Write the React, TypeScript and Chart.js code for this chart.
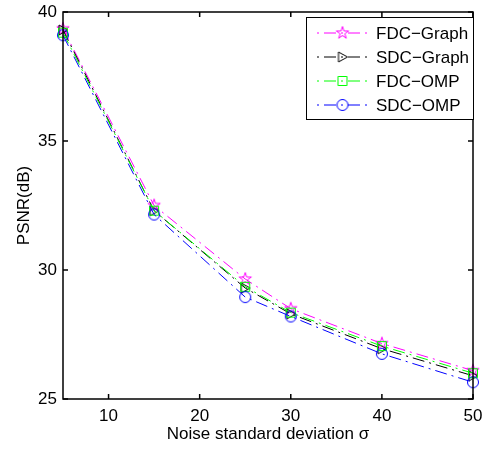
import React, { useEffect, useRef } from 'react';
import { Chart, registerables } from 'chart.js';

Chart.register(...registerables);

const noiseSigma = [5, 15, 25, 30, 40, 50];
const fdcGraph = [39.35, 32.5, 29.65, 28.5, 27.15, 26.1];
const sdcGraph = [39.3, 32.3, 29.3, 28.3, 26.95, 25.9];
const fdcOmp = [39.2, 32.3, 29.35, 28.35, 27.05, 26.0];
const sdcOmp = [39.1, 32.15, 28.95, 28.2, 26.75, 25.65];
const xTicks = [10, 20, 30, 40, 50];
const yTicks = [25, 30, 35, 40];
const seriesNames = ['FDC\u2212Graph', 'SDC\u2212Graph', 'FDC\u2212OMP', 'SDC\u2212OMP'];
const seriesColors = ['#ff00ff', '#000000', '#00ff00', '#0000ff'];
const seriesMarkers = ['pentagram', 'triangleRight', 'square', 'circle'];

const FONT = '"Liberation Sans", Arial, Helvetica, sans-serif';
const DASH = [12, 5, 2, 5];

function makeMarker(kind: string, color: string): HTMLCanvasElement {
  const c = document.createElement('canvas');
  c.width = 16;
  c.height = 16;
  const g = c.getContext('2d')!;
  const cx = 8, cy = 8;
  g.strokeStyle = color;
  g.lineWidth = 1;
  g.beginPath();
  if (kind === 'pentagram') {
    const R = 6.5, r = R * 0.382;
    for (let i = 0; i < 10; i++) {
      const rad = i % 2 === 0 ? R : r;
      const a = -Math.PI / 2 + (i * Math.PI) / 5;
      const px = cx + rad * Math.cos(a), py = cy + rad * Math.sin(a);
      if (i === 0) g.moveTo(px, py); else g.lineTo(px, py);
    }
    g.closePath();
  } else if (kind === 'triangleRight') {
    g.moveTo(cx + 5, cy);
    g.lineTo(cx - 4, cy - 5);
    g.lineTo(cx - 4, cy + 5);
    g.closePath();
  } else if (kind === 'square') {
    g.rect(cx - 4.5, cy - 4.5, 9, 9);
  } else {
    g.arc(cx, cy, 5.5, 0, Math.PI * 2);
  }
  g.stroke();
  return c;
}

export default function App() {
  const ref = useRef<HTMLCanvasElement>(null);

  useEffect(() => {
    const markers = seriesMarkers.map((m, i) => makeMarker(m, seriesColors[i]));
    const values = [fdcGraph, sdcGraph, fdcOmp, sdcOmp];

    const boxPlugin = {
      id: 'boxAndLegend',
      afterDraw(chart: any) {
        const { ctx, chartArea } = chart;
        const { left, right, top, bottom } = chartArea;
        const xs = chart.scales.x;
        const ys = chart.scales.y;
        ctx.save();
        ctx.strokeStyle = '#000';
        ctx.lineWidth = 1.5;
        ctx.setLineDash([]);
        ctx.strokeRect(left, top, right - left, bottom - top);
        const tl = 5;
        ctx.beginPath();
        xTicks.forEach((v) => {
          const px = xs.getPixelForValue(v);
          ctx.moveTo(px, bottom);
          ctx.lineTo(px, bottom - tl);
          ctx.moveTo(px, top);
          ctx.lineTo(px, top + tl);
        });
        yTicks.forEach((v) => {
          const py = ys.getPixelForValue(v);
          ctx.moveTo(left, py);
          ctx.lineTo(left + tl, py);
          ctx.moveTo(right, py);
          ctx.lineTo(right - tl, py);
        });
        ctx.stroke();

        // legend
        const w = 167, h = 102;
        const x0 = right - w, y0 = top + 5;
        ctx.fillStyle = '#fff';
        ctx.fillRect(x0, y0, w, h);
        ctx.lineWidth = 1;
        ctx.strokeRect(Math.round(x0) + 0.5, Math.round(y0) + 0.5, w, h);
        ctx.font = `17px ${FONT}`;
        ctx.textBaseline = 'middle';
        ctx.textAlign = 'left';
        seriesNames.forEach((name, i) => {
          const yy = y0 + 16 + i * 24;
          const lx0 = x0 + 11, lx1 = x0 + 62;
          ctx.strokeStyle = seriesColors[i];
          ctx.lineWidth = 1;
          ctx.setLineDash(DASH);
          ctx.lineDashOffset = 17;
          ctx.beginPath();
          ctx.moveTo(lx0, yy);
          ctx.lineTo(lx1, yy);
          ctx.stroke();
          ctx.setLineDash([]);
          const mk = markers[i];
          ctx.drawImage(mk, (lx0 + lx1) / 2 - mk.width / 2, yy - mk.height / 2);
          ctx.fillStyle = '#000';
          ctx.fillText(name, x0 + 70, yy + 1);
        });
        ctx.restore();
      },
    };

    const chart = new Chart(ref.current!, {
      type: 'line',
      data: {
        datasets: seriesNames.map((name, i) => ({
          label: name,
          data: noiseSigma.map((x, j) => ({ x, y: values[i][j] })),
          borderColor: seriesColors[i],
          backgroundColor: 'rgba(0,0,0,0)',
          borderWidth: 1,
          borderDash: DASH,
          pointStyle: markers[i] as any,
          pointRadius: 5,
          pointHoverRadius: 5,
          fill: false,
          tension: 0,
          clip: false as any,
          order: 3 - i,
        })),
      },
      options: {
        animation: false,
        responsive: false,
        layout: { padding: { top: 12, right: 14, left: 0, bottom: 0 } },
        plugins: { legend: { display: false }, tooltip: { enabled: false } },
        scales: {
          x: {
            type: 'linear',
            min: 5,
            max: 50,
            afterBuildTicks: (s: any) => {
              s.ticks = xTicks.map((v) => ({ value: v }));
            },
            afterFit: (s: any) => {
              s.height = 54;
              s.paddingLeft = 0;
              s.paddingRight = 0;
            },
            grid: { display: false, drawTicks: false },
            border: { display: false },
            ticks: {
              color: '#000',
              font: { family: FONT, size: 17 },
              padding: 7,
              maxRotation: 0,
              autoSkip: false,
            },
            title: {
              display: true,
              text: 'Noise standard deviation \u03c3',
              color: '#000',
              font: { family: FONT, size: 17 },
              padding: { top: 0, bottom: 8 },
            },
          },
          y: {
            type: 'linear',
            min: 25,
            max: 40,
            afterBuildTicks: (s: any) => {
              s.ticks = yTicks.map((v) => ({ value: v }));
            },
            afterFit: (s: any) => {
              s.width = 63;
              s.paddingTop = 0;
              s.paddingBottom = 0;
            },
            grid: { display: false, drawTicks: false },
            border: { display: false },
            ticks: {
              color: '#000',
              font: { family: FONT, size: 17 },
              padding: 6,
              autoSkip: false,
            },
            title: {
              display: true,
              text: 'PSNR(dB)',
              color: '#000',
              font: { family: FONT, size: 17 },
              padding: { top: 14, bottom: 0 },
            },
          },
        },
      },
      plugins: [boxPlugin],
    });
    return () => chart.destroy();
  }, []);

  return (
    <div style={{ position: 'fixed', left: 0, top: 0, width: 487, height: 453, background: '#fff' }}>
      <canvas ref={ref} width={487} height={453} style={{ display: 'block' }} />
    </div>
  );
}
